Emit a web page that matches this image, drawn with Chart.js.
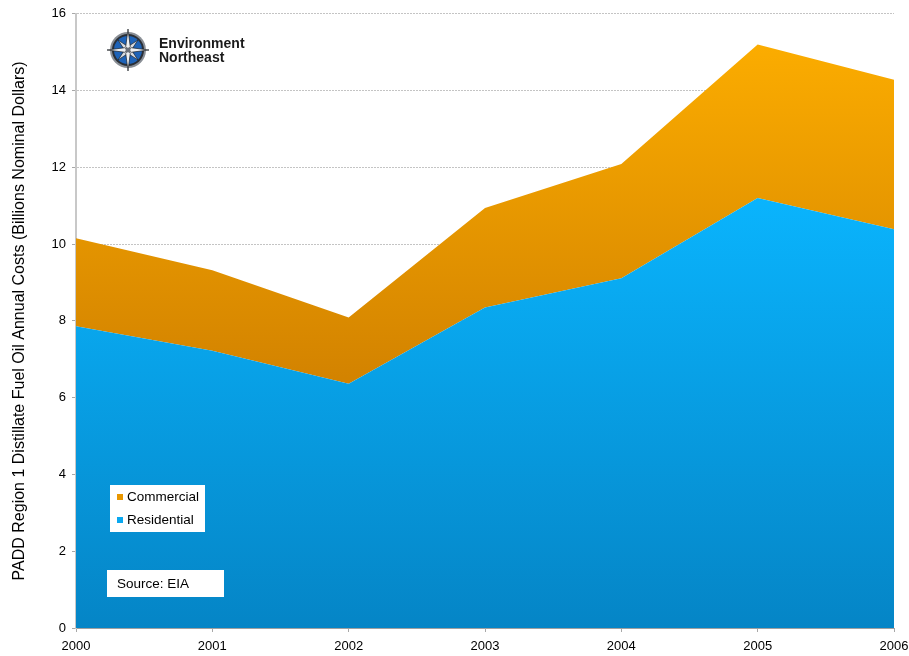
<!DOCTYPE html>
<html>
<head>
<meta charset="utf-8">
<script src="https://cdn.jsdelivr.net/npm/chart.js@4/dist/chart.umd.min.js"></script>
<style>
  html, body { margin: 0; padding: 0; background: #fff; }
  #wrap { width: 909px; height: 656px; }
</style>
</head>
<body>
<div id="wrap"><canvas id="chart" width="909" height="656"></canvas></div>
<script>
const years = ['2000', '2001', '2002', '2003', '2004', '2005', '2006']
// billions of nominal dollars
const residential = [7.86, 7.22, 6.36, 8.35, 9.11, 11.2, 10.39]
const commercial = [2.29, 2.10, 1.73, 2.59, 2.98, 4.0, 3.89]
const seriesNames = ['Residential', 'Commercial']
const legendOrder = ['Commercial', 'Residential']
const swatch = { Commercial: '#e99700', Residential: '#0aa8f0' }

const FONT = '"Liberation Sans", Arial, sans-serif'

function blueFill(ctx) {
  const area = ctx.chart.chartArea
  if (!area) return '#0aa8f0'
  const g = ctx.chart.ctx.createLinearGradient(0, area.top, 0, area.bottom)
  g.addColorStop(0, '#0fbcff')
  g.addColorStop(0.3, '#0ab4fd')
  g.addColorStop(1, '#0585c6')
  return g
}

function orangeFill(ctx) {
  const area = ctx.chart.chartArea
  if (!area) return '#e99700'
  const g = ctx.chart.ctx.createLinearGradient(0, area.top, 0, area.bottom)
  g.addColorStop(0, '#ffb000')
  g.addColorStop(0.62, '#d18100')
  g.addColorStop(1, '#b36d00')
  return g
}

// legend box, source note and logo drawn inside the plot
const extras = {
  id: 'extras',
  afterDraw(chart) {
    const c = chart.ctx
    c.save()
    // legend
    c.fillStyle = '#fff'
    c.fillRect(110, 485, 95, 47)
    c.font = '13.5px ' + FONT
    c.textBaseline = 'middle'
    legendOrder.forEach((name, i) => {
      const y = 497 + i * 23
      c.fillStyle = swatch[name]
      c.fillRect(117, y - 3, 6, 6)
      c.fillStyle = '#000'
      c.fillText(name, 127, y)
    })
    // source
    c.fillStyle = '#fff'
    c.fillRect(107, 570, 117, 27)
    c.fillStyle = '#000'
    c.fillText('Source: EIA', 117, 584)

    // logo: compass
    const cx = 128, cy = 50
    c.beginPath(); c.arc(cx, cy, 18, 0, Math.PI * 2)
    c.fillStyle = '#8a8f96'; c.fill()
    c.beginPath(); c.arc(cx, cy, 16, 0, Math.PI * 2)
    c.fillStyle = '#2a2f36'; c.fill()
    c.beginPath(); c.arc(cx, cy, 14, 0, Math.PI * 2)
    c.fillStyle = '#1e63b8'; c.fill()
    const star = (len, w, rot, fill) => {
      for (let k = 0; k < 4; k++) {
        const a = rot + k * Math.PI / 2
        c.beginPath()
        c.moveTo(cx, cy)
        c.lineTo(cx + Math.cos(a - 0.6) * w, cy + Math.sin(a - 0.6) * w)
        c.lineTo(cx + Math.cos(a) * len, cy + Math.sin(a) * len)
        c.lineTo(cx + Math.cos(a + 0.6) * w, cy + Math.sin(a + 0.6) * w)
        c.closePath()
        c.fillStyle = fill; c.fill()
        c.strokeStyle = '#1b1f24'; c.lineWidth = 0.7; c.stroke()
      }
    }
    star(14, 4, Math.PI / 4, '#d8dce2')
    star(21, 4, 0, '#eef0f3')
    c.beginPath(); c.arc(cx, cy, 2.5, 0, Math.PI * 2)
    c.fillStyle = '#6b7078'; c.fill()
    // logo text
    c.fillStyle = '#1a1a1a'
    c.font = 'bold 14px ' + FONT
    c.textBaseline = 'alphabetic'
    c.fillText('Environment', 159, 48)
    c.fillText('Northeast', 159, 62)
    c.restore()
  }
}

const ctx = document.getElementById('chart').getContext('2d')
let chart = new Chart(ctx, {
  type: 'line',
  data: {
    labels: years,
    datasets: [{
      label: seriesNames[0],
      data: residential,
      backgroundColor: blueFill,
      borderWidth: 0,
      pointRadius: 0,
      fill: 'origin',
      tension: 0
    }, {
      label: seriesNames[1],
      data: commercial,
      backgroundColor: orangeFill,
      borderWidth: 0,
      pointRadius: 0,
      fill: '-1',
      tension: 0
    }]
  },
  options: {
    responsive: false,
    animation: false,
    layout: { padding: { top: 13, right: 15, left: 0, bottom: 0 } },
    plugins: {
      legend: { display: false },
      tooltip: { enabled: false }
    },
    scales: {
      x: {
        offset: false,
        grid: { drawOnChartArea: false, tickLength: 4, color: '#a8a8a8' },
        border: { color: '#a0a0a0', width: 1 },
        ticks: { color: '#000', font: { family: FONT, size: 13 }, padding: 7, maxRotation: 0 },
        afterFit: s => { s.height = 28; s.paddingRight = 0; s.paddingLeft = 0 }
      },
      y: {
        stacked: true,
        min: 0,
        max: 16,
        ticks: { stepSize: 2, color: '#000', font: { family: FONT, size: 13 }, padding: 6 },
        grid: { color: '#c4c4c4', lineWidth: 1, tickLength: 4, tickColor: '#a8a8a8' },
        border: { color: '#c8c8c8', width: 2, dash: [2, 1] },
        title: {
          display: true,
          text: 'PADD Region 1 Distillate Fuel Oil Annual Costs (Billions Nominal Dollars)',
          color: '#000',
          font: { family: FONT, size: 16 },
          padding: { top: 10, bottom: 4 }
        },
        afterFit: s => { s.width = 76 }
      }
    }
  },
  plugins: [extras]
})
</script>
</body>
</html>
